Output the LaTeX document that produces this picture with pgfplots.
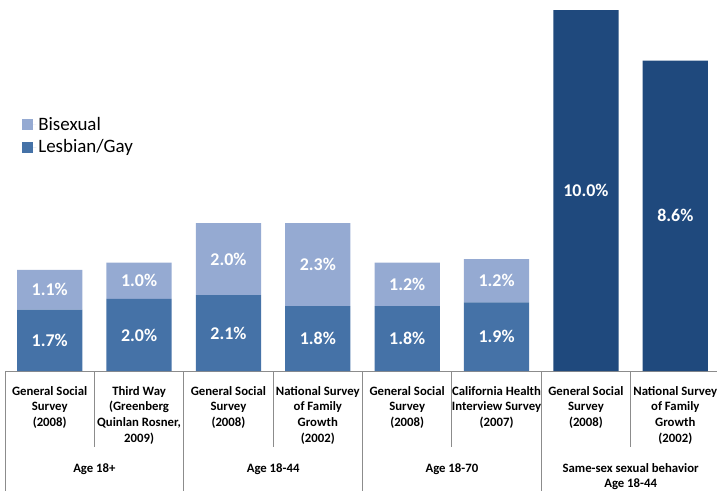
\documentclass[border=0pt]{standalone}
\usepackage{pgfplots}
\usepackage{pgfplotstable}
\pgfplotsset{compat=1.18}
\usepackage{fontspec}
\setmainfont{Carlito}
\definecolor{bisex}{HTML}{95AAD2}
\definecolor{lesgay}{HTML}{4572A7}
\definecolor{samesex}{HTML}{1F497D}
\definecolor{sepgray}{HTML}{8C8C8C}

% identity surveys, stacked
\pgfplotstableread{
x  LG   Bi
1  1.7  1.1
2  2.0  1.0
3  2.1  2.0
4  1.8  2.3
5  1.8  1.2
6  1.9  1.2
}\tabidentity

% same-sex sexual behavior
\pgfplotstableread{
x  SS
7  10.0
8  8.6
}\tabbehavior

\pgfplotsset{
  chartbox/.style={
    at={(0,0)}, anchor=south west,
    scale only axis, width=715bp, height=371bp,
    xmin=0.5, xmax=8.5, ymin=0, ymax=10.28,
    axis lines=none, xtick=\empty, ytick=\empty,
    bar width=0.73, clip=false,
  },
  % white value label in the middle of a segment
  seglabel/.style={
    draw=none, mark=none,
    point meta=\thisrow{#1},
    nodes near coords={\pgfmathprintnumber[fixed,fixed zerofill,precision=1,assume math mode=true]{\pgfplotspointmeta}\%},
    every node near coord/.append style={
      anchor=center, text=white,
      font=\fontsize{18}{20}\selectfont\bfseries},
  },
}
\tikzset{
  catlabel/.style={anchor=north, align=center, inner sep=0pt,
    font=\fontsize{12.8}{15.7}\selectfont\bfseries},
}

\begin{document}
\begin{tikzpicture}
\path[use as bounding box] (-5bp,-120bp) rectangle (712bp,371bp);
\begin{axis}[
  chartbox,
  ybar stacked,
  reverse legend,
  legend cell align=left,
  legend style={at={(axis description cs:0.024,0.69)}, anchor=north west,
    draw=none, fill=none, font=\fontsize{19}{24}\selectfont,
    inner sep=0pt, row sep=4bp},
  legend image code/.code={\fill[#1] (0bp,-5.5bp) rectangle (11bp,5.5bp);
    \path (0bp,0bp) -- (14bp,0bp);},
]
\addplot[fill=lesgay, draw=none] table[x=x, y=LG] {\tabidentity};
\addlegendentry{Lesbian/Gay}
\addplot[fill=bisex, draw=none] table[x=x, y=Bi] {\tabidentity};
\addlegendentry{Bisexual}

% axis line and separators
\draw[sepgray, line width=1bp] (axis cs:0.5,0) -- (axis cs:8.5,0);
\draw[sepgray, line width=1bp] (axis cs:0.5,0) -- ++(0bp,-120bp);
\draw[sepgray, line width=1bp] (axis cs:2.5,0) -- ++(0bp,-120bp);
\draw[sepgray, line width=1bp] (axis cs:4.5,0) -- ++(0bp,-120bp);
\draw[sepgray, line width=1bp] (axis cs:6.5,0) -- ++(0bp,-120bp);
\draw[sepgray, line width=1bp] (axis cs:8.5,0) -- ++(0bp,-120bp);
\draw[sepgray, line width=1bp] (axis cs:1.5,0) -- ++(0bp,-76bp);
\draw[sepgray, line width=1bp] (axis cs:3.5,0) -- ++(0bp,-76bp);
\draw[sepgray, line width=1bp] (axis cs:5.5,0) -- ++(0bp,-76bp);
\draw[sepgray, line width=1bp] (axis cs:7.5,0) -- ++(0bp,-76bp);

% category labels
\node[catlabel] at ([yshift=-15bp]axis cs:1,0) {General Social\\Survey\\(2008)};
\node[catlabel] at ([yshift=-15bp]axis cs:2,0) {Third Way\\(Greenberg\\Quinlan Rosner,\\2009)};
\node[catlabel] at ([yshift=-15bp]axis cs:3,0) {General Social\\Survey\\(2008)};
\node[catlabel] at ([yshift=-15bp]axis cs:4,0) {National Survey\\of Family\\Growth\\(2002)};
\node[catlabel] at ([yshift=-15bp]axis cs:5,0) {General Social\\Survey\\(2008)};
\node[catlabel] at ([yshift=-15bp]axis cs:6,0) {California Health\\Interview Survey\\(2007)};
\node[catlabel] at ([yshift=-15bp]axis cs:7,0) {General Social\\Survey\\(2008)};
\node[catlabel] at ([yshift=-15bp]axis cs:8,0) {National Survey\\of Family\\Growth\\(2002)};
\node[catlabel] at ([yshift=-92bp]axis cs:1.5,0) {Age 18+};
\node[catlabel] at ([yshift=-92bp]axis cs:3.5,0) {Age 18-44};
\node[catlabel] at ([yshift=-92bp]axis cs:5.5,0) {Age 18-70};
\node[catlabel] at ([yshift=-92bp]axis cs:7.5,0) {Same-sex sexual behavior\\Age 18-44};
\end{axis}

% dark bars
\begin{axis}[chartbox, ybar]
\addplot[fill=samesex, draw=none] table[x=x, y=SS] {\tabbehavior};
\end{axis}

% value labels, centred in their segments
\begin{axis}[chartbox]
\addplot[seglabel=LG] table[x=x, y expr=\thisrow{LG}/2] {\tabidentity};
\addplot[seglabel=Bi] table[x=x, y expr=\thisrow{LG}+\thisrow{Bi}/2] {\tabidentity};
\addplot[seglabel=SS] table[x=x, y expr=\thisrow{SS}/2] {\tabbehavior};
\end{axis}
\end{tikzpicture}
\end{document}
